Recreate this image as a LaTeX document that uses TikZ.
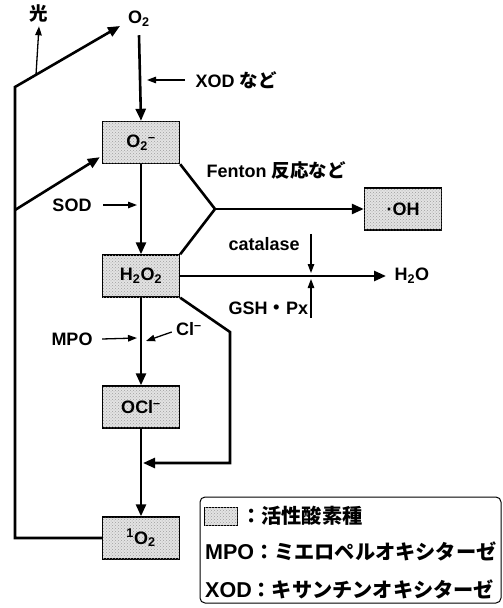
\documentclass[tikz,border=0pt]{standalone}
\usepackage{fontspec}
\setmainfont{Liberation Sans}
\newfontfamily\jpfont{Noto Sans CJK JP}
\newcommand\jp[1]{{\jpfont\fontsize{18.5}{20}\selectfont #1}}
\newcommand\jpkey[1]{{\jpfont\fontsize{20.2}{22}\selectfont #1}}
\usetikzlibrary{arrows.meta,patterns,positioning,calc}

\tikzset{
  ros/.style={draw, line width=1.4pt, fill=gray!22, minimum width=77pt, minimum height=42pt,
    inner sep=0pt, font=\fontsize{18}{20}\selectfont\bfseries,
    postaction={pattern=crosshatch dots, pattern color=gray!75}},
  mainline/.style={line width=2.6pt},
  mainarrow/.style={line width=2.6pt, -{Triangle[length=12pt,width=10pt]}},
  smallarrow/.style={line width=1.3pt, -{Triangle[length=9pt,width=6.5pt]}},
  lbl/.style={font=\fontsize{18}{20}\selectfont\bfseries},
  keylbl/.style={font=\fontsize{21.5}{23}\selectfont\bfseries, anchor=west, inner sep=0pt},
}

\begin{document}
\begin{tikzpicture}[x=1pt,y=-1pt]
  \useasboundingbox (0,0) rectangle (503,608);
  % species boxes
  \node[ros] (sup) at (141,142.5) {O\textsubscript{2}\textsuperscript{--}};
  \node[ros] (hoo) at (141,276) {H\textsubscript{2}O\textsubscript{2}};
  \node[ros] (oh) at (403,209) {·OH};
  \node[ros] (ocl) at (141,407) {OCl\textsuperscript{--}};
  \node[ros] (sing) at (141,538) {\textsuperscript{1}O\textsubscript{2}};
  % labels
  \node[lbl] (light) at (39,13) {\jp{光}};
  \node[lbl] (o2) at (139,19) {O\textsubscript{2}};
  \node[lbl, anchor=west] (xod) at (192,80) {XOD \jp{など}};
  \node[lbl, anchor=west] (fenton) at (203,170) {Fenton \jp{反応など}};
  \node[lbl] (sod) at (72,205) {SOD};
  \node[lbl, anchor=west] (catalase) at (225,244) {catalase};
  \node[lbl, anchor=west] (gsh) at (225,308) {GSH\jp{・}Px};
  \node[lbl, anchor=west] (h2o) at (391,276) {H\textsubscript{2}O};
  \node[lbl] (mpo) at (72,339) {MPO};
  \node[lbl] (cl) at (189,329) {Cl\textsuperscript{--}};
  % helper points
  \coordinate (lt) at (15,87);
  \coordinate (lm) at (15,210);
  \coordinate (o2tip) at (120,26);
  \coordinate (fj) at (215,209);
  \coordinate (cx) at (311,276);
  \coordinate (rc) at (230,332);
  \coordinate (rb) at (230,463);
  \coordinate (rtip) at (143,463);
  % main chain
  \draw[mainarrow] ([yshift=-5pt]o2.south) -- (sup.north);
  \draw[mainarrow] (sup) -- (hoo);
  \draw[mainarrow] (hoo) -- (ocl);
  \draw[mainarrow] (ocl) -- (sing);
  % loop back to O2
  \draw[mainarrow] (sing.west) -| (lt) -- (o2tip);
  \draw[smallarrow] ($(lt)!0.2!(o2tip)$) -- ([yshift=-1pt]light.south);
  \draw[mainarrow] (lm) -- ([xshift=-2pt,yshift=7pt]sup.south west);
  % Fenton
  \draw[mainline] (sup.south east) -- (fj) -- (hoo.north east);
  \draw[mainarrow] (fj) -- (oh.west);
  % to water
  \draw[mainarrow] (hoo.east) -- ([xshift=-5pt]h2o.west);
  \draw[smallarrow] (cx |- catalase.north) -- ([yshift=3pt]cx);
  \draw[smallarrow] (cx |- gsh.south) -- ([yshift=-3pt]cx);
  % right loop
  \draw[mainarrow] (hoo.south east) -- (rc) -- (rb) -- (rtip);
  % enzymes
  \draw[smallarrow] ([xshift=-7pt]xod.west) -- (147,80);
  \draw[smallarrow] ([xshift=8pt]sod.east) -- (137,205);
  \draw[smallarrow] ([xshift=6pt]mpo.east) -- (137,338);
  \draw[smallarrow] ([xshift=-1pt,yshift=-3pt]cl.west) -- (146,341);
  % legend
  \draw[line width=1pt, rounded corners=5pt] (200,497) rectangle (501,603);
  \node[ros, line width=1pt, minimum width=33pt, minimum height=18pt] (key) at (221,516) {};
  \node[keylbl] (keytxt) at ([xshift=3pt]key.east) {\jpkey{：活性酸素種}};
  \node[keylbl] (mpokey) at (205,551) {MPO\jpkey{：ミエロペルオキシターゼ}};
  \node[keylbl] (xodkey) at (205,589) {XOD\jpkey{：キサンチンオキシターゼ}};
\end{tikzpicture}
\end{document}
